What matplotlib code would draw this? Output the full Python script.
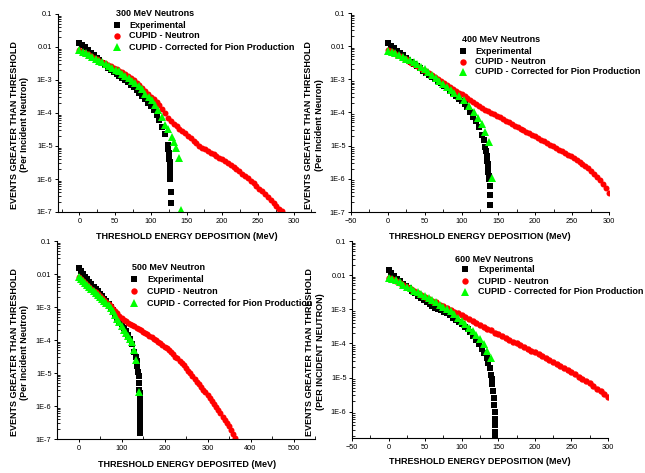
import numpy as np
import matplotlib
matplotlib.use("Agg")
import matplotlib.pyplot as plt
from matplotlib.lines import Line2D
from matplotlib.ticker import FixedLocator, FuncFormatter, MultipleLocator, LogLocator, NullFormatter

plt.rcParams['font.family'] = ['Liberation Sans', 'DejaVu Sans']

# ---- data: x = threshold energy (MeV), y = log10(events per incident neutron)

# 300 MeV
n300_exp_x = [0, 4, 8, 12, 16, 20, 24, 28, 32, 36, 40, 44, 48, 52, 56, 60, 64, 68, 72, 76,
              80, 84, 88, 92, 96, 100, 104, 108, 112, 116, 120, 124, 124.5, 125, 125.5, 126,
              126.3, 126.6, 126.9, 127.1, 127.3, 127.5, 128.8, 128.8]
n300_exp_y = [-1.87, -1.94, -2.01, -2.09, -2.17, -2.25, -2.32, -2.39, -2.47, -2.55, -2.63, -2.70,
              -2.77, -2.83, -2.89, -2.95, -3.01, -3.07, -3.14, -3.22, -3.30, -3.38, -3.47, -3.58,
              -3.70, -3.80, -3.90, -4.05, -4.22, -4.41, -4.65, -4.98, -5.10, -5.20, -5.30, -5.40,
              -5.50, -5.60, -5.70, -5.80, -5.90, -6.00, -6.38, -6.74]
n300_cup_x = [0, 4, 8, 12, 16, 20, 24, 28, 32, 36, 40, 44, 48, 52, 56, 60, 64, 68, 72, 76, 80,
              84, 88, 92, 96, 100, 104, 108, 112, 116, 120, 124, 128, 132, 136, 140, 144, 148,
              152, 156, 160, 164, 168, 172, 176, 180, 184, 188, 192, 196, 200, 204, 208, 212,
              216, 220, 224, 228, 232, 236, 240, 244, 248, 252, 256, 260, 264, 268, 272, 276,
              280, 284]
n300_cup_y = [-2.10, -2.14, -2.18, -2.22, -2.27, -2.32, -2.36, -2.41, -2.45, -2.50, -2.54, -2.58,
              -2.63, -2.67, -2.72, -2.77, -2.83, -2.89, -2.95, -3.01, -3.08, -3.16, -3.24, -3.33,
              -3.42, -3.52, -3.59, -3.67, -3.77, -3.89, -4.01, -4.14, -4.24, -4.33, -4.40, -4.47,
              -4.54, -4.62, -4.69, -4.77, -4.85, -4.92, -4.99, -5.05, -5.10, -5.15, -5.20, -5.25,
              -5.30, -5.35, -5.40, -5.46, -5.52, -5.58, -5.64, -5.70, -5.77, -5.84, -5.91, -5.98,
              -6.05, -6.13, -6.21, -6.29, -6.37, -6.45, -6.55, -6.65, -6.74, -6.82, -6.90, -6.98]
n300_pion_x = [0, 5, 9, 14, 18, 23, 28, 32, 37, 41, 46, 51, 55, 60, 64, 69, 74, 78, 83, 87, 92,
               97, 101, 106, 110, 115, 120, 124, 129, 133, 135, 139, 142]
n300_pion_y = [-2.09, -2.15, -2.19, -2.25, -2.30, -2.36, -2.42, -2.46, -2.52, -2.57, -2.63, -2.69,
               -2.74, -2.82, -2.88, -2.95, -3.03, -3.10, -3.19, -3.28, -3.41, -3.53, -3.62, -3.76,
               -3.92, -4.12, -4.35, -4.50, -4.72, -4.87, -5.07, -5.37, -6.94]

# 400 MeV
n400_exp_x = [0, 4, 8, 12, 16, 20, 24, 28, 32, 36, 40, 44, 48, 52, 56, 60, 64, 68, 72, 76, 80,
              84, 88, 92, 96, 100, 104, 108, 112, 116, 120, 124, 128, 130, 132, 133, 134, 135,
              135.5, 136, 136.5, 137, 137, 138, 138, 138]
n400_exp_y = [-1.90, -1.98, -2.06, -2.14, -2.21, -2.28, -2.35, -2.41, -2.48, -2.54, -2.61, -2.67,
              -2.74, -2.80, -2.86, -2.92, -2.98, -3.05, -3.12, -3.19, -3.27, -3.35, -3.42, -3.50,
              -3.58, -3.66, -3.75, -3.84, -3.97, -4.13, -4.27, -4.45, -4.68, -4.83, -5.03, -5.15,
              -5.30, -5.45, -5.55, -5.65, -5.78, -5.90, -6.00, -6.21, -6.50, -6.78]
n400_cup_x = [0, 4, 8, 12, 16, 20, 24, 28, 32, 36, 40, 44, 48, 52, 56, 60, 64, 68, 72, 76, 80,
              84, 88, 92, 96, 100, 104, 108, 112, 116, 120, 124, 128, 132, 136, 140, 144, 148,
              152, 156, 160, 164, 168, 172, 176, 180, 184, 188, 192, 196, 200, 204, 208, 212,
              216, 220, 224, 228, 232, 236, 240, 244, 248, 252, 256, 260, 264, 268, 272, 276,
              280, 284, 288, 292, 296, 300]
n400_cup_y = [-2.12, -2.16, -2.21, -2.26, -2.30, -2.35, -2.40, -2.45, -2.50, -2.55, -2.60, -2.65,
              -2.71, -2.76, -2.82, -2.87, -2.93, -2.99, -3.05, -3.11, -3.17, -3.23, -3.29, -3.34,
              -3.40, -3.45, -3.51, -3.57, -3.63, -3.69, -3.75, -3.81, -3.86, -3.91, -3.96, -4.01,
              -4.05, -4.10, -4.15, -4.20, -4.25, -4.30, -4.35, -4.40, -4.45, -4.50, -4.54, -4.59,
              -4.63, -4.68, -4.72, -4.77, -4.82, -4.87, -4.92, -4.97, -5.02, -5.07, -5.12, -5.17,
              -5.22, -5.27, -5.32, -5.38, -5.43, -5.49, -5.54, -5.60, -5.66, -5.75, -5.84, -5.94,
              -6.05, -6.16, -6.29, -6.43]
n400_pion_x = [0, 5, 10, 15, 20, 25, 30, 35, 40, 45, 50, 55, 60, 65, 70, 75, 80, 85, 90, 96,
               102.7, 109.5, 116.3, 122.3, 127.7, 132.3, 136.8, 141.4]
n400_pion_y = [-2.14, -2.18, -2.22, -2.27, -2.33, -2.38, -2.43, -2.48, -2.55, -2.63, -2.70, -2.78,
               -2.87, -2.95, -3.04, -3.13, -3.22, -3.31, -3.40, -3.50, -3.62, -3.80, -3.97, -4.18,
               -4.36, -4.58, -4.88, -5.98]

# 500 MeV
n500_exp_x = [0, 5, 10, 15, 20, 25, 30, 35, 40, 45, 50, 55, 60, 65, 70, 75, 80, 85, 90, 95,
              100, 105, 110, 115, 120, 125, 130, 133, 135, 137, 139, 140, 141, 141.5, 142, 142,
              142, 142, 142, 142, 142, 142, 142, 142, 142, 142, 142, 142]
n500_exp_y = [-1.83, -1.92, -2.00, -2.08, -2.15, -2.23, -2.30, -2.38, -2.45, -2.53, -2.60, -2.68,
              -2.75, -2.83, -2.91, -3.00, -3.10, -3.20, -3.32, -3.43, -3.53, -3.63, -3.74, -3.85,
              -3.98, -4.12, -4.35, -4.50, -4.63, -4.80, -4.97, -5.10, -5.30, -5.50, -5.60, -5.70,
              -5.80, -5.90, -6.00, -6.10, -6.20, -6.30, -6.40, -6.50, -6.60, -6.70, -6.78, -6.83]
n500_cup_x = [0, 5, 10, 15, 20, 25, 30, 35, 40, 45, 50, 55, 60, 65, 70, 75, 80, 85, 90, 95,
              100, 105, 110, 115, 120, 125, 130, 135, 140, 145, 150, 155, 160, 165, 170, 175,
              180, 185, 190, 195, 200, 205, 210, 215, 220, 225, 230, 235, 240, 245, 250, 255,
              260, 265, 270, 275, 280, 285, 290, 295, 300, 305, 310, 315, 320, 325, 330, 335,
              340, 345, 350, 355, 360, 365]
n500_cup_y = [-2.10, -2.15, -2.20, -2.26, -2.32, -2.38, -2.44, -2.50, -2.56, -2.62, -2.68, -2.74,
              -2.80, -2.86, -2.92, -2.98, -3.05, -3.12, -3.19, -3.26, -3.33, -3.38, -3.43, -3.47,
              -3.51, -3.55, -3.59, -3.63, -3.67, -3.71, -3.75, -3.79, -3.83, -3.88, -3.92, -3.97,
              -4.01, -4.06, -4.10, -4.15, -4.20, -4.25, -4.31, -4.37, -4.43, -4.50, -4.56, -4.63,
              -4.70, -4.77, -4.85, -4.93, -5.01, -5.09, -5.17, -5.26, -5.34, -5.42, -5.50, -5.58,
              -5.67, -5.76, -5.85, -5.94, -6.03, -6.12, -6.22, -6.32, -6.42, -6.52, -6.62, -6.73,
              -6.85, -6.97]
n500_pion_x = [0, 5, 10, 15, 20, 25, 30, 35, 40, 45, 50, 55, 60, 65, 70, 75, 80, 85, 90, 95,
               100, 105, 110, 115, 120, 125, 130, 134, 140]
n500_pion_y = [-2.10, -2.15, -2.20, -2.26, -2.32, -2.38, -2.45, -2.51, -2.57, -2.63, -2.70, -2.76,
               -2.83, -2.89, -2.95, -3.02, -3.12, -3.24, -3.35, -3.46, -3.58, -3.70, -3.78, -3.87,
               -3.96, -4.05, -4.30, -4.60, -5.57]

# 600 MeV
n600_exp_x = [0, 4, 8, 12, 16, 20, 24, 28, 32, 36, 40, 44, 48, 52, 56, 60, 64, 68, 72, 76, 80,
              84, 88, 92, 96, 100, 104, 108, 112, 116, 120, 124, 128, 131, 134, 136, 138, 140,
              141, 142, 143, 144, 144.5, 145, 145.5, 145.5, 146, 146]
n600_exp_y = [-1.85, -1.94, -2.02, -2.10, -2.18, -2.25, -2.32, -2.39, -2.46, -2.53, -2.60, -2.67,
              -2.74, -2.80, -2.85, -2.90, -2.95, -2.99, -3.03, -3.07, -3.12, -3.18, -3.25, -3.31,
              -3.38, -3.44, -3.51, -3.58, -3.66, -3.77, -3.90, -4.03, -4.16, -4.28, -4.43, -4.56,
              -4.72, -4.93, -5.05, -5.20, -5.38, -5.60, -5.80, -6.00, -6.20, -6.40, -6.60, -6.68]
n600_cup_x = [0, 5, 10, 15, 20, 25, 30, 35, 40, 45, 50, 55, 60, 65, 70, 75, 80, 85, 90, 95,
              100, 105, 110, 115, 120, 125, 130, 135, 140, 145, 150, 155, 160, 165, 170, 175,
              180, 185, 190, 195, 200, 205, 210, 215, 220, 225, 230, 235, 240, 245, 250, 255,
              260, 265, 270, 275, 280, 285, 290, 295, 300]
n600_cup_y = [-2.07, -2.12, -2.17, -2.22, -2.28, -2.34, -2.40, -2.46, -2.52, -2.58, -2.64, -2.69,
              -2.75, -2.80, -2.86, -2.91, -2.96, -3.02, -3.07, -3.12, -3.17, -3.23, -3.29, -3.35,
              -3.40, -3.46, -3.51, -3.57, -3.62, -3.68, -3.73, -3.78, -3.84, -3.89, -3.95, -4.00,
              -4.05, -4.10, -4.16, -4.21, -4.26, -4.32, -4.37, -4.43, -4.48, -4.54, -4.60, -4.66,
              -4.71, -4.77, -4.83, -4.90, -4.97, -5.03, -5.10, -5.17, -5.25, -5.33, -5.40, -5.48,
              -5.56]
n600_pion_x = [0, 5, 10, 15, 20, 25, 30, 35, 40, 45, 50, 55, 60, 65, 70, 75, 80, 85, 90, 95,
               100, 105, 110, 115, 120, 125, 130, 135, 140]
n600_pion_y = [-2.07, -2.10, -2.14, -2.21, -2.28, -2.34, -2.39, -2.45, -2.50, -2.55, -2.61, -2.66,
               -2.72, -2.80, -2.86, -2.92, -2.99, -3.06, -3.15, -3.25, -3.34, -3.44, -3.54, -3.64,
               -3.74, -3.87, -4.03, -4.22, -4.42]

legend_labels = ["Experimental", "CUPID - Neutron", "CUPID - Corrected for Pion Production"]
ylabel_top = "EVENTS GREATER THAN THRESHOLD"

# ---- figure
W, H = 645, 473
fig = plt.figure(figsize=(W / 100, H / 100), dpi=100)


def fx(px):
    return px / W


def fy(py):
    return 1 - py / H


def ytick_text(v, pos):
    e = int(round(np.log10(v)))
    return {-1: "0.1", -2: "0.01"}.get(e, "1E%d" % e)


def panel(l, t, r, b, xlim, ylo, yticks, xmaj, xmin, series, ms):
    ax = fig.add_axes([fx(l), fy(b), fx(r - l), (b - t) / H])
    ax.set_yscale("log")
    colors = ["black", "#ff0000", "#00ff00"]
    markers = ["s", "o", "^"]
    for (x, y), c, m, s in zip(series, colors, markers, ms):
        ax.plot(x, 10 ** np.array(y), ls="none", marker=m, ms=s, color=c, mec=c, mew=0)
    ax.set_xlim(*xlim)
    ax.set_ylim(ylo, 0.1)
    ax.yaxis.set_major_locator(FixedLocator([10.0 ** e for e in yticks]))
    ax.yaxis.set_major_formatter(FuncFormatter(ytick_text))
    ax.yaxis.set_minor_locator(LogLocator(base=10, subs=range(2, 10), numticks=20))
    ax.yaxis.set_minor_formatter(NullFormatter())
    ax.xaxis.set_major_locator(MultipleLocator(xmaj))
    ax.xaxis.set_minor_locator(MultipleLocator(xmin))
    for s in ["top", "right"]:
        ax.spines[s].set_visible(False)
    for s in ["left", "bottom"]:
        ax.spines[s].set_linewidth(0.8)
    ax.tick_params(which="major", direction="out", length=2.5, width=0.7,
                   labelsize=5.3, pad=1.5)
    ax.tick_params(which="minor", direction="in", length=2, width=0.6)
    return ax


def legend(title, tx, ty, mx, rows, lx, ms):
    fig.text(fx(tx), fy(ty), title, fontsize=6.5, fontweight="bold", ha="left", va="center")
    for lab, m, c, s, y in zip(legend_labels, ["s", "o", "^"], ["black", "#ff0000", "#00ff00"], ms, rows):
        fig.add_artist(Line2D([fx(mx)], [fy(y)], ls="none", marker=m, ms=s, color=c, mew=0,
                              transform=fig.transFigure))
        fig.text(fx(lx), fy(y), lab, fontsize=6.5, fontweight="bold", ha="left", va="center")


def labels(xc, xy, xtext, yx, yc, ytext2):
    fig.text(fx(xc), fy(xy), xtext, fontsize=6.5, fontweight="bold", ha="center", va="center")
    fig.text(fx(yx), fy(yc), ylabel_top + "\n" + ytext2, fontsize=6.5, fontweight="bold",
             rotation=90, ha="center", va="center", multialignment="center", linespacing=1.15)


ms_plot = [4.3, 4.3, 5.2]
ms_leg = [4.0, 4.6, 5.4]

panel(58, 14, 315, 212, (-30, 330), 1e-7, range(-1, -8, -1), 50, 25,
      [(n300_exp_x, n300_exp_y), (n300_cup_x, n300_cup_y), (n300_pion_x, n300_pion_y)], ms_plot)
panel(351, 13, 609, 212, (-50, 300), 1e-7, range(-1, -8, -1), 50, 25,
      [(n400_exp_x, n400_exp_y), (n400_cup_x, n400_cup_y), (n400_pion_x, n400_pion_y)], ms_plot)
panel(57, 241, 315, 439, (-50, 550), 1e-7, range(-1, -8, -1), 100, 50,
      [(n500_exp_x, n500_exp_y), (n500_cup_x, n500_cup_y), (n500_pion_x, n500_pion_y)], ms_plot)
panel(352, 241, 608, 438, (-50, 300), 1.7e-7, range(-1, -7, -1), 50, 25,
      [(n600_exp_x, n600_exp_y), (n600_cup_x, n600_cup_y), (n600_pion_x, n600_pion_y)],
      [4.3, 4.6, 5.4])

legend("300 MeV Neutrons", 116, 14, 117, [25, 36, 47], 129, ms_leg)
legend("400 MeV Neutrons", 461.5, 39, 463, [51, 62, 72], 475, ms_leg)
legend("500 MeV Neutron", 132.5, 268, 134, [279, 291, 303], 147, ms_leg)
legend("600 MeV Neutrons", 455, 259, 465, [269, 281, 292], 478, ms_leg)

labels(186.5, 236, "THRESHOLD ENERGY DEPOSITION (MeV)", 19.5, 125, "(Per Incident Neutron)")
labels(480, 236, "THRESHOLD ENERGY DEPOSITION (MeV)", 314, 125, "(Per Incident Neuron)")
labels(187, 464, "THRESHOLD ENERGY DEPOSITED (MeV)", 19.5, 352, "(Per Incident Neutron)")
labels(480, 461, "THRESHOLD ENERGY DEPOSITION (MeV)", 315, 352, "(PER INCIDENT NEUTRON)")

fig.savefig("out.png", dpi=100)
